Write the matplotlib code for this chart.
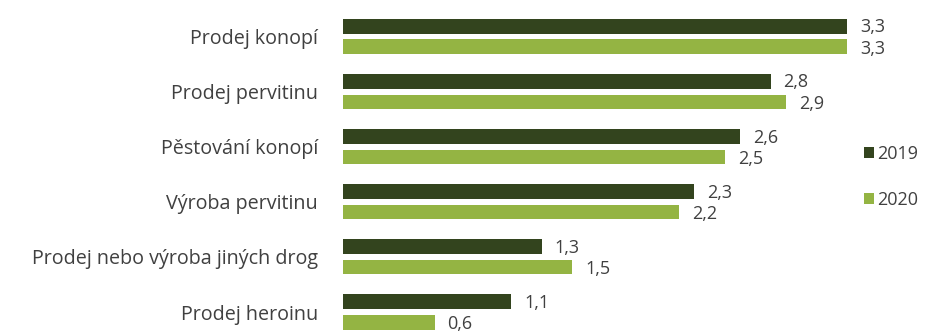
import matplotlib
matplotlib.use("Agg")
import matplotlib.pyplot as plt
import numpy as np

categories = [
    "Prodej konopí",
    "Prodej pervitinu",
    "Pěstování konopí",
    "Výroba pervitinu",
    "Prodej nebo výroba jiných drog",
    "Prodej heroinu",
]
values_2019 = [3.3, 2.8, 2.6, 2.3, 1.3, 1.1]
values_2020 = [3.3, 2.9, 2.5, 2.2, 1.5, 0.6]
series_labels = ["2019", "2020"]

dark = "#33441E"
light = "#94B443"
text_color = "#404040"

plt.rcParams["font.family"] = ["Open Sans", "DejaVu Sans"]

W, H, DPI = 944, 333, 100
fig = plt.figure(figsize=(W / DPI, H / DPI), dpi=DPI)

# axes geometry in pixels
left_px = 343.0
px_per_unit = 152.7
axes_right_px = 860.0
ax = fig.add_axes([left_px / W, 0, (axes_right_px - left_px) / W, 1])

first_center_px = 36.5
step_px = 55.1
ax.set_xlim(0, (axes_right_px - left_px) / px_per_unit)
ax.set_ylim((H - first_center_px) / step_px, -first_center_px / step_px)

y = np.arange(len(categories))
bar_h = 0.265
off = 0.186
ax.barh(y - off, values_2019, height=bar_h, color=dark, label=series_labels[0])
ax.barh(y + off, values_2020, height=bar_h, color=light, label=series_labels[1])

cat_fs = 14.2
num_fs = 13
for yi, v in zip(y, values_2019):
    ax.text(v + 0.085, yi - off + 0.02, f"{v:.1f}".replace(".", ","),
            va="center", ha="left", fontsize=num_fs, color=text_color, clip_on=False)
for yi, v in zip(y, values_2020):
    ax.text(v + 0.085, yi + off + 0.04, f"{v:.1f}".replace(".", ","),
            va="center", ha="left", fontsize=num_fs, color=text_color, clip_on=False)

ax.set_yticks(y)
ax.set_yticklabels(categories, fontsize=cat_fs, color=text_color)
ax.tick_params(axis="y", length=0, pad=18)
ax.set_xticks([])
for s in ax.spines.values():
    s.set_visible(False)

leg = fig.legend(loc="center left", bbox_to_anchor=(864 / W, 1 - 177 / H),
                 frameon=False, fontsize=num_fs, handlelength=0.55, handleheight=0.55,
                 handletextpad=0.2, labelspacing=1.55, borderpad=0, borderaxespad=0)
for t in leg.get_texts():
    t.set_color(text_color)

fig.savefig("out.png", dpi=DPI)
